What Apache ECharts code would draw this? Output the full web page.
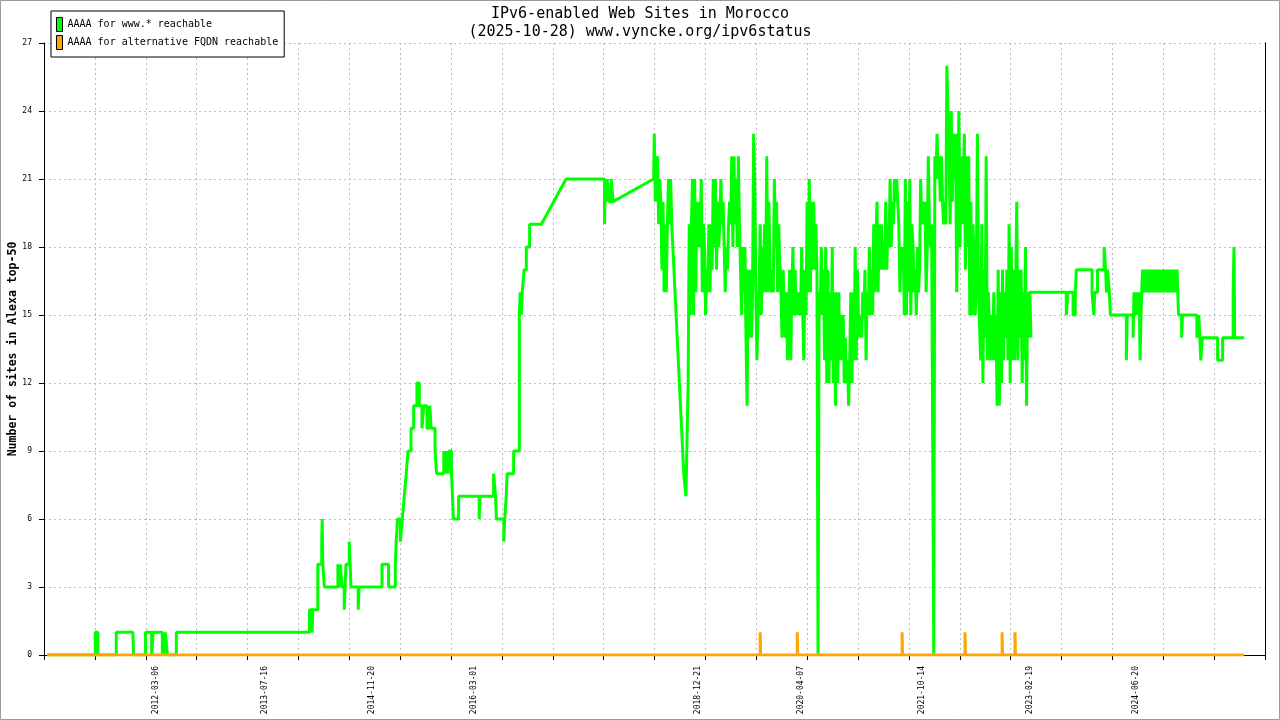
<!DOCTYPE html>
<html>
<head>
<meta charset="utf-8">
<title>IPv6-enabled Web Sites in Morocco</title>
<script src="https://cdn.jsdelivr.net/npm/echarts@6/dist/echarts.min.js"></script>
<style>
  html, body { margin: 0; padding: 0; background: #fff; }
  #chart { width: 1280px; height: 720px; }
</style>
</head>
<body>
<div id="chart"></div>
<script>
// axis range (one category per day) and the dates printed under the axis
var axisStart = '2010-10-10';
var axisEnd = '2026-01-31';
var tickEvery = 233; // days between grid lines
var tickLabels = ['2012-03-06', '2013-07-16', '2014-11-20', '2016-03-01', '2018-12-21',
                  '2020-04-07', '2021-10-14', '2023-02-19', '2024-06-20'];

// AAAA for www.* reachable : calm stretch up to mid 2018
var wwwEarly = [
  ['2010-10-24',0],
  ['2011-06-02',0],['2011-06-02',1],['2011-06-14',1],['2011-06-14',0],
  ['2011-09-06',0],['2011-09-06',1],['2011-11-21',1],['2011-11-24',0],
  ['2012-01-18',0],['2012-01-18',1],['2012-02-15',1],['2012-02-15',0],['2012-02-22',0],['2012-02-22',1],
  ['2012-04-04',1],['2012-04-04',0],['2012-04-08',0],['2012-04-08',1],['2012-04-14',1],['2012-04-14',0],
  ['2012-04-18',0],['2012-04-18',1],['2012-04-27',1],['2012-04-27',0],
  ['2012-06-07',0],['2012-06-07',1],
  ['2014-02-07',1],['2014-02-07',2],['2014-02-19',2],['2014-02-19',1],['2014-02-22',1],['2014-02-22',2],
  ['2014-03-17',2],['2014-03-17',4],['2014-04-04',4],['2014-04-04',5],['2014-04-06',5],['2014-04-06',6],
  ['2014-04-09',6],['2014-04-09',4],['2014-04-16',4],['2014-04-16',3],
  ['2014-06-17',3],['2014-06-17',4],['2014-06-24',4],['2014-06-24',3],['2014-06-28',3],['2014-06-28',4],
  ['2014-07-06',4],['2014-07-06',3],
  ['2014-07-16',3],['2014-07-16',2],['2014-07-24',2],['2014-07-24',4],['2014-08-08',4],['2014-08-08',5],
  ['2014-08-16',5],['2014-08-16',3],
  ['2014-09-18',3],['2014-09-18',2],['2014-09-22',2],['2014-09-22',3],
  ['2015-01-05',3],['2015-01-05',4],['2015-02-04',4],['2015-02-04',3],['2015-03-07',3],['2015-03-07',4],
  ['2015-03-11',4],['2015-03-11',5],['2015-03-17',5],['2015-03-17',6],['2015-03-30',6],['2015-03-30',5],
  ['2015-04-08',5],['2015-04-08',6],['2015-04-17',6],['2015-04-17',7],['2015-04-26',7],['2015-04-26',8],
  ['2015-05-04',8],['2015-05-04',9],['2015-05-18',9],['2015-05-18',10],['2015-05-30',10],['2015-05-30',11],
  ['2015-06-14',11],['2015-06-14',12],['2015-06-25',12],['2015-06-25',11],['2015-07-07',11],['2015-07-07',10],
  ['2015-07-15',10],['2015-07-15',11],['2015-07-30',11],['2015-07-30',10],['2015-08-12',10],['2015-08-12',11],
  ['2015-08-18',11],['2015-08-18',10],['2015-09-05',10],['2015-09-05',9],['2015-09-12',9],['2015-09-12',8],
  ['2015-10-15',8],['2015-10-15',9],['2015-10-22',9],['2015-10-22',8],['2015-10-28',8],['2015-10-28',9],
  ['2015-11-04',9],['2015-11-04',8],['2015-11-08',8],['2015-11-08',9],['2015-11-19',9],['2015-11-19',8],
  ['2015-11-24',8],['2015-11-24',7],['2015-11-28',7],['2015-11-28',6],['2015-12-22',6],['2015-12-22',7],
  ['2016-03-25',7],['2016-03-25',6],['2016-03-29',6],['2016-03-29',7],
  ['2016-05-30',7],['2016-05-30',8],['2016-06-08',8],['2016-06-08',7],['2016-06-12',7],['2016-06-12',6],
  ['2016-07-16',6],['2016-07-16',5],['2016-07-20',5],['2016-07-20',6],['2016-07-27',6],['2016-07-27',7],
  ['2016-07-31',7],['2016-07-31',8],['2016-08-30',8],['2016-08-30',9],['2016-09-25',9],['2016-09-25',15],
  ['2016-09-29',15],['2016-09-29',16],['2016-10-04',16],['2016-10-04',15],['2016-10-08',15],['2016-10-08',16],
  ['2016-10-17',16],['2016-10-17',17],['2016-10-27',17],['2016-10-27',18],['2016-11-11',18],['2016-11-11',19],
  ['2017-01-04',19],['2017-04-27',21],
  ['2017-10-20',21],['2017-10-20',19],['2017-10-24',19],['2017-10-24',21],['2017-10-28',21],['2017-10-28',20],
  ['2017-11-02',20],['2017-11-02',21],['2017-11-10',21],['2017-11-10',20],['2017-11-20',20],['2017-11-20',21],
  ['2017-11-28',21],['2017-11-28',20],['2017-12-06',20],
  ['2018-06-02',21]
];

// busy stretches: one reading every denseStep days
var denseStep = 5;
var www2018From = '2018-06-05';
var www2018 = [
  23,20,21, 22,19,21,20, 17,20,16,19, 16,19, 21,19,21,19, 18,17, 16,15,
  14,13,12,11,10,9,8,8,7, 7,12, 19,15,19, 21,15,21,16,20, 18,20,18, 21,16,19,
  18,15,17,16, 19,16,19,17, 21,18,21, 17,20,18,19, 21,19,20, 18,16,18,17, 19,20,19,
  22,18,22,19,21,18,22,19, 19,15,18,16, 18,14,11,17,14, 17,14,16, 23,21,
  16,13,15,16, 19,15,18, 16,19,16, 22,16,20,17, 16,17,16, 21,18,20, 16,19,17,16,
  14,17,15,14, 16,13,15, 17,13,16, 18,15,17,15, 16,15,16,15, 18,15,13,17,15,
  20,16, 21,16,20, 17,20,17,19, 17,0,16,15, 18,15,17,
  13,18,12, 17,12,16,13, 18,12,16, 11,16,12, 16,13,15,13, 15,12,14,12, 13,11,13,
  16,12,16,13, 18,13,17, 15,14,15,14, 16,15, 17,13,16,15, 18,15,17,15, 19,16,18,
  20,16,19,17, 19,17,18,17, 20,17,19,18, 21,18,20,19, 21,20,21,20, 19,16,18,17,
  18,15, 21,15,20,16,21,15,19, 18,16,17,15,18,16,17, 21,19,20,19, 20,16,18,
  22,19,18,19, 19,0,22, 21,23,21,22, 20,22,20, 19,20,19, 26,24, 22,19,
  24,20,23,21, 23,16,20, 24,18, 22,19,21, 23,17,22,18, 22,15, 20,15,19, 19,15,17,
  23,16, 16,13, 19,12,17,14, 22,13,16, 16,13,15,13, 16,13,15,11, 17,11,16,12,
  17,13,16,14,17,13, 19,12,18,13, 17,13,16, 20,13,17,14, 17,12,16,13, 18,11,16,14, 16,14
];

var wwwMid = [
  ['2023-02-16',16],['2023-08-05',16],['2023-08-05',15],['2023-08-12',15],['2023-08-12',16],
  ['2023-09-05',16],['2023-09-05',15],['2023-09-15',15],['2023-09-15',16],['2023-09-20',16],['2023-09-20',17],
  ['2023-12-01',17],['2023-12-01',16],['2023-12-09',16],['2023-12-09',15],['2023-12-13',15],['2023-12-13',16],
  ['2023-12-26',16],['2023-12-26',17],
  ['2024-01-25',17],['2024-01-25',18],['2024-02-01',18],['2024-02-01',17],['2024-02-05',17],['2024-02-05',16],
  ['2024-02-10',16],['2024-02-10',17],['2024-02-18',17],['2024-02-18',16],['2024-02-23',16],['2024-02-23',15],
  ['2024-05-06',15],['2024-05-06',13],['2024-05-10',13],['2024-05-10',15],['2024-06-06',15],['2024-06-06',14],
  ['2024-06-10',14],['2024-06-10',16],['2024-06-16',16],['2024-06-16',15],['2024-06-22',15],['2024-06-22',16],
  ['2024-06-28',16],['2024-06-28',15],['2024-07-04',15],['2024-07-04',16],['2024-07-08',16],['2024-07-08',13],
  ['2024-07-12',13],['2024-07-12',15],['2024-07-19',15],['2024-07-19',17]
];

var www2024From = '2024-07-22';
var www2024 = [16,17,16,17,16,17,16,17,16,17,16,17,16,17,16,17,
               16,17,16,17,16,17,16,17,16,17,16,17,16,17,16,17];

var wwwTail = [
  ['2024-12-31',17],['2024-12-31',15],
  ['2025-01-14',15],['2025-01-14',14],['2025-01-18',14],['2025-01-18',15],
  ['2025-03-25',15],['2025-03-25',14],['2025-04-03',14],['2025-04-03',15],['2025-04-12',15],['2025-04-12',13],
  ['2025-04-19',13],['2025-04-19',14],
  ['2025-06-28',14],['2025-06-28',13],['2025-07-21',13],['2025-07-21',14],
  ['2025-09-07',14],['2025-09-07',16],['2025-09-11',16],['2025-09-11',18],['2025-09-14',18],['2025-09-14',14],
  ['2025-10-28',14]
];

// AAAA for alternative FQDN reachable
var fqdn = [
  ['2010-10-24',0],
  ['2019-10-03',0],['2019-10-03',1],['2019-10-05',1],['2019-10-05',0],
  ['2020-03-21',0],['2020-03-21',1],['2020-03-23',1],['2020-03-23',0],
  ['2021-07-14',0],['2021-07-14',1],['2021-07-16',1],['2021-07-16',0],
  ['2022-04-28',0],['2022-04-28',1],['2022-04-30',1],['2022-04-30',0],
  ['2022-10-15',0],['2022-10-15',1],['2022-10-17',1],['2022-10-17',0],
  ['2022-12-13',0],['2022-12-13',1],['2022-12-15',1],['2022-12-15',0],
  ['2025-10-28',0]
];

var DAY = 86400000;
function toDay(s) {
  var p = s.split('-');
  return Date.UTC(+p[0], +p[1] - 1, +p[2]) / DAY;
}
function toDate(n) {
  return new Date(n * DAY).toISOString().slice(0, 10);
}

var first = toDay(axisStart);
var days = [];
for (var d = first; d <= toDay(axisEnd); d++) days.push(toDate(d));

function dense(from, values) {
  var start = toDay(from);
  return values.map(function (v, i) { return [toDate(start + i * denseStep), v]; });
}

var wwwData = [].concat(wwwEarly, dense(www2018From, www2018), wwwMid,
                        dense(www2024From, www2024), wwwTail);

var mono = 'DejaVu Sans Mono';
var gridLine = { show: true, lineStyle: { color: '#bdbdbd', type: [2, 3], width: 1 } };
function onTick(idx) { return idx % tickEvery === 0; }

var myChart = echarts.init(document.getElementById('chart'));
var option = {
  animation: false,
  backgroundColor: '#fff',
  title: {
    text: 'IPv6-enabled Web Sites in Morocco\n(2025-10-28) www.vyncke.org/ipv6status',
    left: 'center',
    top: 0,
    textStyle: { fontFamily: mono, fontSize: 15, fontWeight: 'normal', color: '#000', lineHeight: 18 }
  },
  legend: {
    orient: 'vertical',
    left: 51,
    top: 11,
    padding: [6, 6, 7, 5],
    itemGap: 3,
    itemWidth: 6,
    itemHeight: 14,
    itemTextGap: 5,
    icon: 'rect',
    borderColor: '#000',
    borderWidth: 1,
    backgroundColor: '#fff',
    itemStyle: { borderColor: '#000', borderWidth: 1 },
    textStyle: { fontFamily: mono, fontSize: 10, color: '#000' },
    data: ['AAAA for www.* reachable', 'AAAA for alternative FQDN reachable']
  },
  grid: { left: 44, right: 15, top: 43, bottom: 65, outerBoundsMode: 'none', containLabel: false },
  xAxis: {
    type: 'category',
    data: days,
    boundaryGap: false,
    axisLine: { lineStyle: { color: '#000', width: 1 } },
    axisTick: { interval: onTick, length: 5, lineStyle: { color: '#000' } },
    axisLabel: {
      interval: function (idx, val) { return tickLabels.indexOf(val) >= 0; },
      rotate: 90,
      margin: 11,
      fontFamily: mono,
      fontSize: 8,
      color: '#000'
    },
    splitLine: { show: true, interval: onTick, lineStyle: gridLine.lineStyle }
  },
  yAxis: [{
    type: 'value',
    min: 0,
    max: 27,
    interval: 3,
    name: 'Number of sites in Alexa top-50',
    nameLocation: 'middle',
    nameGap: 25,
    nameMoveOverlap: false,
    nameTextStyle: { fontFamily: mono, fontSize: 11.5, fontWeight: 'bold', color: '#000' },
    axisLine: { show: true, lineStyle: { color: '#000', width: 1 } },
    axisTick: { show: true, length: 5, lineStyle: { color: '#000' } },
    axisLabel: { fontFamily: mono, fontSize: 8, color: '#000', margin: 12 },
    splitLine: gridLine
  }, {
    type: 'value',
    min: 0,
    max: 27,
    interval: 3,
    position: 'right',
    axisLine: { show: true, lineStyle: { color: '#000', width: 1 } },
    axisTick: { show: false },
    axisLabel: { show: false },
    splitLine: { show: false }
  }],
  graphic: [{
    type: 'rect',
    shape: { x: 0.5, y: 0.5, width: 1279, height: 719 },
    style: { fill: 'none', stroke: '#999', lineWidth: 1 },
    silent: true
  }],
  series: [{
    name: 'AAAA for www.* reachable',
    type: 'line',
    data: wwwData,
    showSymbol: false,
    symbol: 'none',
    itemStyle: { color: '#00ff00' },
    lineStyle: { color: '#00ff00', width: 3 }
  }, {
    name: 'AAAA for alternative FQDN reachable',
    type: 'line',
    data: fqdn,
    showSymbol: false,
    symbol: 'none',
    itemStyle: { color: '#ffa500' },
    lineStyle: { color: '#ffa500', width: 3 }
  }]
};
myChart.setOption(option);
</script>
</body>
</html>
